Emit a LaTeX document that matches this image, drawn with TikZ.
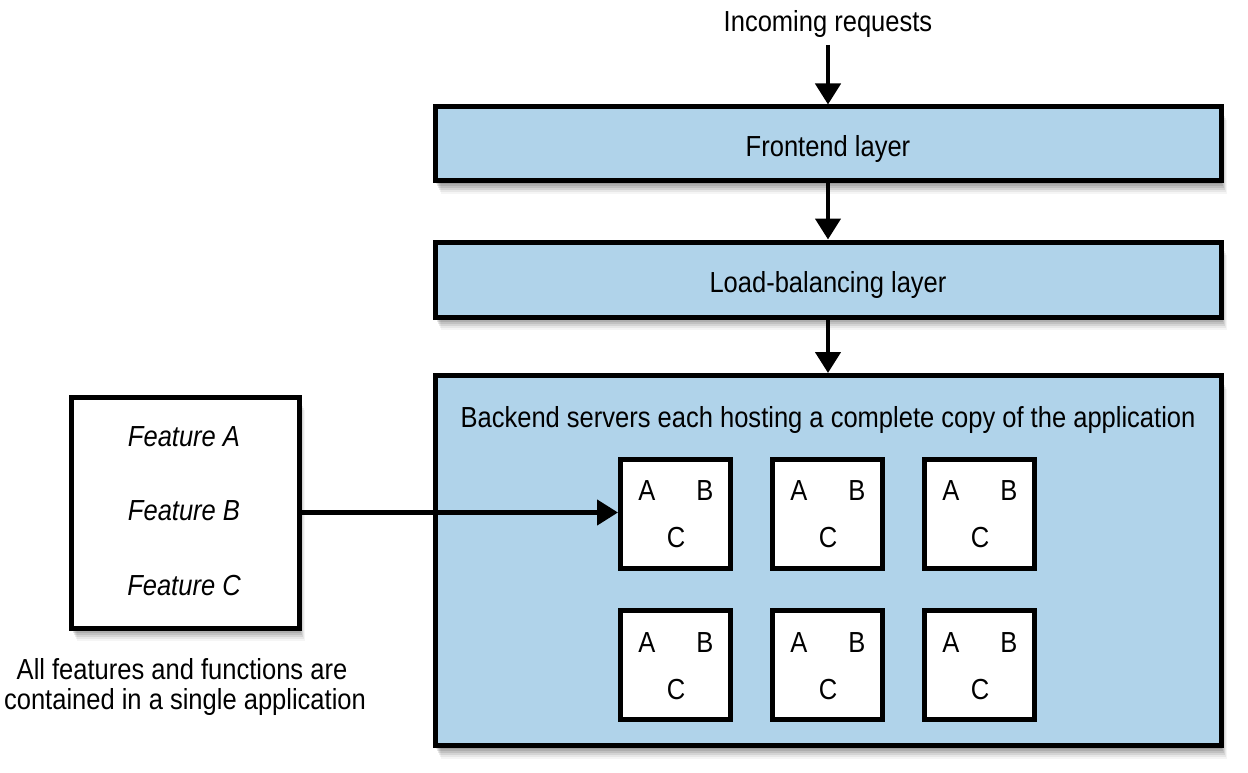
\documentclass[tikz,border=0pt]{standalone}
\usepackage{fontspec}
\setmainfont{Liberation Sans}[FakeStretch=0.88]
\usetikzlibrary{arrows.meta,shadows,calc}
\definecolor{boxblue}{HTML}{B0D3EA}
\tikzset{
  softshadow/.style={
    drop shadow={shadow xshift=1pt, shadow yshift=-3pt, fill=black, opacity=0.10},
    drop shadow={shadow xshift=2pt, shadow yshift=-5pt, fill=black, opacity=0.10},
    drop shadow={shadow xshift=3pt, shadow yshift=-7pt, fill=black, opacity=0.09},
    drop shadow={shadow xshift=4pt, shadow yshift=-9pt, fill=black, opacity=0.08},
    drop shadow={shadow xshift=5pt, shadow yshift=-11pt, fill=black, opacity=0.06},
    drop shadow={shadow xshift=6pt, shadow yshift=-13pt, fill=black, opacity=0.04}},
  layer/.style={draw=black, line width=5pt, fill=boxblue, minimum width=786pt, inner sep=0pt, softshadow},
  server/.style={draw=black, line width=5pt, fill=white, minimum width=110pt, minimum height=109pt, inner sep=0pt},
  appbox/.style={draw=black, line width=5pt, fill=white, minimum width=228pt, minimum height=231pt, inner sep=0pt, softshadow},
  lbl/.style={font=\fontsize{29}{36}\selectfont, inner sep=0pt, anchor=base},
  itlbl/.style={lbl, font=\fontsize{29}{36}\selectfont\itshape},
  flow/.style={line width=4.5pt, -{Triangle[width=25pt,length=21pt]}}
}
\begin{document}
\begin{tikzpicture}[x=1pt,y=-1pt]
\useasboundingbox (0,0) rectangle (1248,773);
% layers
\node[layer, minimum height=74pt] (front) at (828,144) {};
\node[layer, minimum height=75pt] (lb) at (828,279.5) {};
\node[layer, minimum height=370pt] (back) at (828,560.5) {};
% labels
\node[lbl] (inc) at (828,32) {Incoming requests};
\node[lbl] (frontlbl) at (828,157) {Frontend layer};
\node[lbl] (lblbl) at (828,292) {Load-balancing layer};
\node[lbl] (backlbl) at (828,427) {Backend servers each hosting a complete copy of the application};
% arrows
\coordinate (incstart) at (828,45);
\draw[flow] (incstart) -- (incstart |- front.north);
\draw[flow] (front.south -| incstart) -- (lb.north -| incstart);
\draw[flow] (lb.south -| incstart) -- (back.north -| incstart);
% servers
\foreach \c/\x in {1/675.5,2/827.5,3/979.5}{
  \foreach \r/\y in {1/513.5,2/665}{
    \node[server] (s\c\r) at (\x,\y) {};
    \node[lbl] (a\c\r) at ($(s\c\r.center)+(-28.5,-13)$) {A};
    \node[lbl] (b\c\r) at ($(s\c\r.center)+(29.5,-13)$) {B};
    \node[lbl] (cc\c\r) at ($(s\c\r.center)+(0.5,34)$) {C};
  }
}
% application box
\node[appbox] (app) at (185,512.5) {};
\node[itlbl] (fa) at (184,446) {Feature A};
\node[itlbl] (fb) at (184,520) {Feature B};
\node[itlbl] (fc) at (184,595) {Feature C};
\node[lbl] (cap1) at (182,679) {All features and functions are};
\node[lbl] (cap2) at (185,709) {contained in a single application};
\draw[flow] (app.east) -- (app.east -| s11.west);
\end{tikzpicture}
\end{document}
